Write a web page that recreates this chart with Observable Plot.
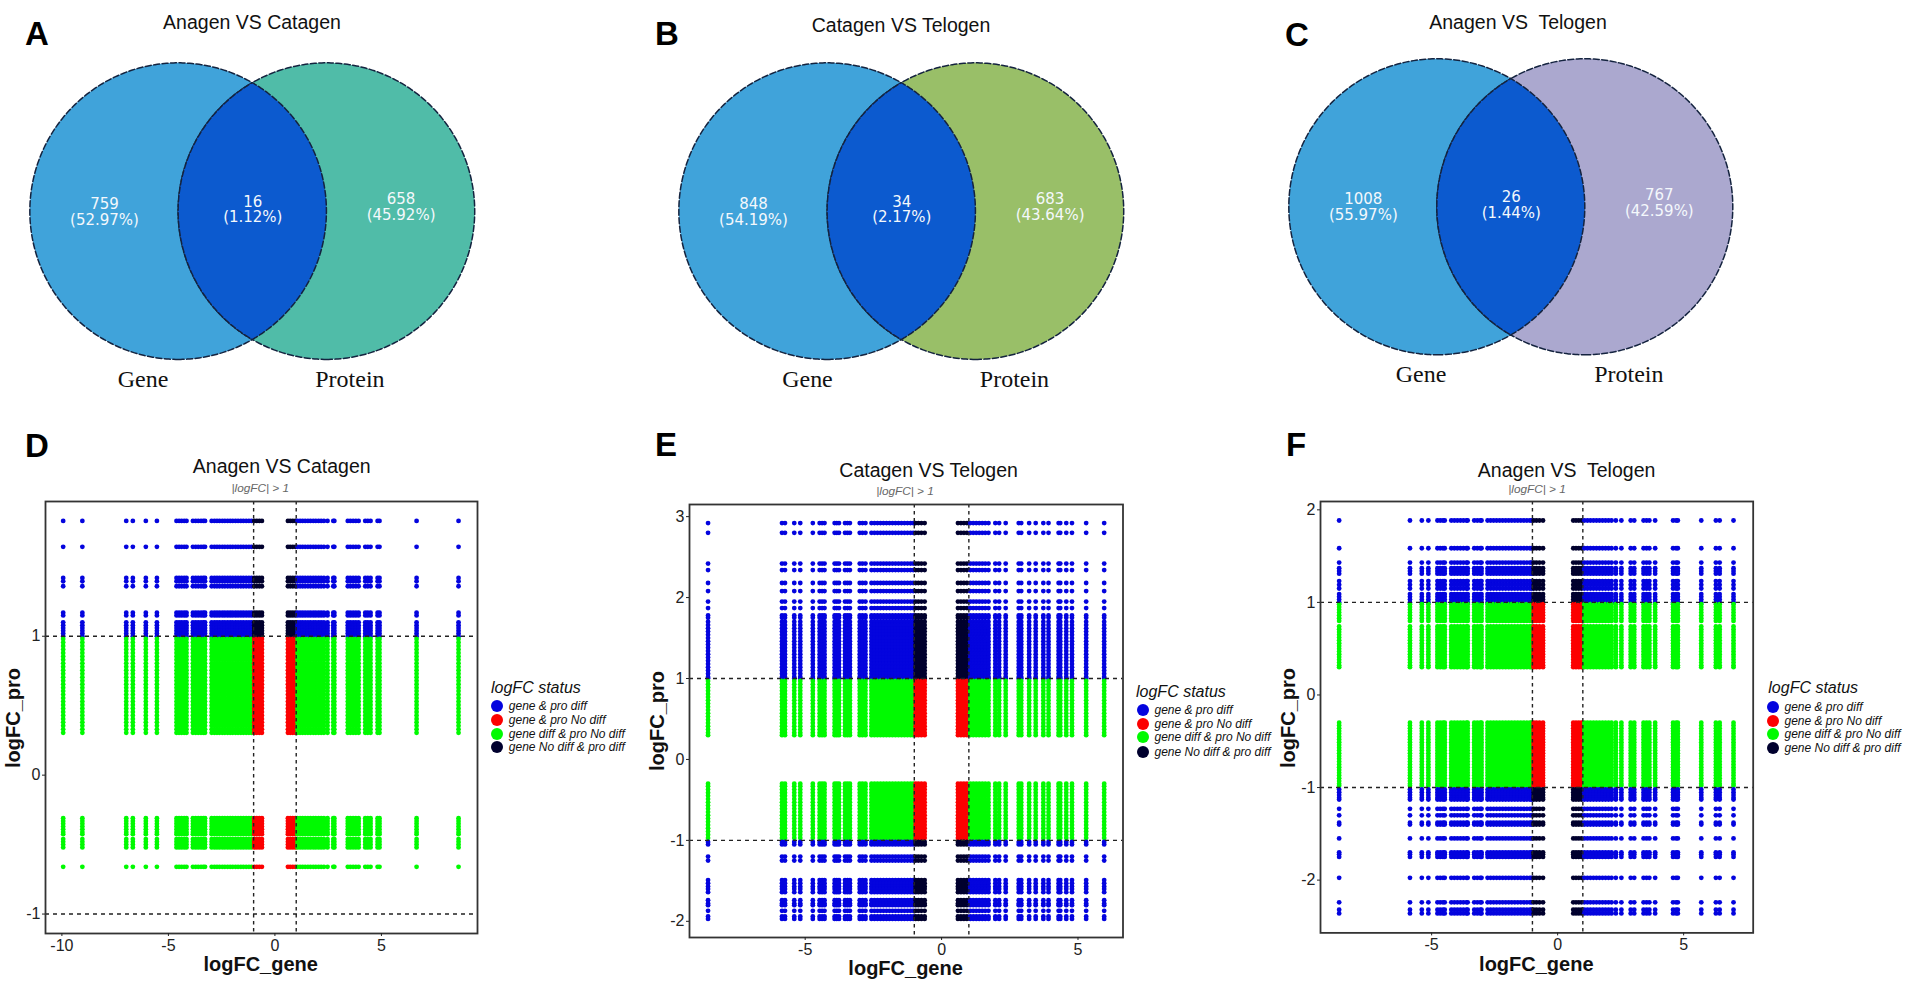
<!DOCTYPE html>
<html>
<head>
<meta charset="utf-8">
<script src="https://cdn.jsdelivr.net/npm/d3@7"></script>
<script src="https://cdn.jsdelivr.net/npm/@observablehq/plot@0.6"></script>
<style>
html,body{margin:0;padding:0;background:#fff;width:1907px;height:985px;overflow:hidden}
#page{position:relative;width:1907px;height:985px}
#page>svg{position:absolute;max-width:none}
.t{position:absolute;white-space:pre;line-height:1;transform:translate(-50%,-50%);font-family:"Liberation Sans",Arial,sans-serif;color:#111}
</style>
</head>
<body>
<div id="page"></div>
<script>
const statusNames = ["gene & pro diff","gene & pro No diff","gene diff & pro No diff","gene No diff & pro diff"];
const statusColors = ["#0404de","#fc0000","#00fa00","#00002e"];

const geneD = [-9.94,-9.04,-6.98,-6.67,-6.06,-5.54,-4.62,-4.50,-4.38,-4.26,-4.15,-3.85,-3.72,-3.60,-3.47,-3.36,-3.28,-2.97,-2.84,-2.72,-2.60,-2.47,-2.35,-2.22,-2.10,-1.98,-1.85,-1.73,-1.60,-1.48,-1.35,-1.22,-1.10,-0.97,-0.85,-0.73,-0.61,0.61,0.72,0.84,0.96,1.06,1.18,1.30,1.42,1.55,1.67,1.80,1.92,2.05,2.17,2.30,2.47,2.74,2.79,3.42,3.54,3.67,3.80,3.93,4.24,4.36,4.49,4.82,4.91,6.65,8.62];
const proD = [1.83,1.644,1.42,1.395,1.36,1.17,1.15,1.10,1.08,1.06,1.04,1.02,1.0,0.98,0.955,0.93,0.905,0.88,0.855,0.83,0.805,0.78,0.755,0.73,0.705,0.68,0.655,0.63,0.605,0.58,0.555,0.53,0.505,0.48,0.455,0.43,0.405,0.38,0.355,0.33,0.305,-0.31,-0.33,-0.35,-0.37,-0.39,-0.41,-0.425,-0.46,-0.48,-0.50,-0.52,-0.66];

const geneE = [-8.56,-5.85,-5.74,-5.40,-5.18,-4.72,-4.47,-4.38,-4.29,-3.92,-3.84,-3.76,-3.54,-3.45,-3.36,-3.0,-2.9,-2.79,-2.57,-2.46,-2.35,-2.24,-2.13,-2.02,-1.91,-1.80,-1.69,-1.58,-1.47,-1.36,-1.25,-1.14,-1.04,-0.95,-0.85,-0.74,-0.62,0.60,0.71,0.82,0.93,1.05,1.16,1.27,1.38,1.49,1.60,1.72,1.97,2.11,2.35,2.83,2.92,3.21,3.45,3.73,3.92,4.29,4.35,4.57,4.78,5.30,5.96];
const proE = [2.92,2.80,2.42,2.34,2.18,2.08,1.95,1.87,1.78,1.75,1.70,1.66,1.62,1.58,1.54,1.50,1.46,1.42,1.38,1.34,1.30,1.26,1.22,1.18,1.14,1.10,1.06,1.02,1.0,0.97,0.93,0.89,0.85,0.81,0.77,0.73,0.69,0.65,0.61,0.57,0.53,0.49,0.45,0.41,0.37,0.33,0.30,-0.30,-0.33,-0.37,-0.41,-0.45,-0.49,-0.53,-0.57,-0.61,-0.65,-0.69,-0.73,-0.77,-0.81,-0.85,-0.89,-0.93,-0.97,-1.02,-1.05,-1.20,-1.25,-1.49,-1.53,-1.57,-1.60,-1.64,-1.74,-1.78,-1.80,-1.87,-1.94,-1.97];

const geneF = [-8.67,-5.86,-5.39,-5.13,-4.77,-4.66,-4.55,-4.48,-4.22,-4.10,-3.98,-3.86,-3.74,-3.62,-3.57,-3.31,-3.19,-3.07,-3.02,-2.78,-2.66,-2.54,-2.42,-2.30,-2.18,-2.06,-1.94,-1.82,-1.70,-1.58,-1.46,-1.34,-1.22,-1.10,-1.03,-0.95,-0.84,-0.72,-0.58,0.62,0.73,0.84,0.95,1.06,1.18,1.30,1.42,1.54,1.66,1.78,1.90,2.02,2.14,2.31,2.53,2.90,3.04,3.41,3.53,3.64,3.87,4.58,4.70,4.77,5.70,6.28,6.43,6.98];
const proF = [1.885,1.585,1.43,1.37,1.34,1.31,1.23,1.19,1.15,1.09,1.06,1.03,1.0,0.98,0.95,0.92,0.89,0.86,0.83,0.80,0.74,0.71,0.68,0.65,0.62,0.59,0.56,0.53,0.50,0.47,0.44,0.41,0.38,0.35,0.32,0.30,-0.30,-0.33,-0.36,-0.39,-0.42,-0.45,-0.48,-0.51,-0.54,-0.57,-0.60,-0.63,-0.66,-0.69,-0.72,-0.75,-0.78,-0.81,-0.84,-0.87,-0.90,-0.93,-0.96,-0.98,-1.02,-1.05,-1.08,-1.11,-1.13,-1.23,-1.30,-1.38,-1.40,-1.55,-1.70,-1.72,-1.75,-1.975,-2.24,-2.32,-2.36];

const vennTitles = ["Anagen VS Catagen","Catagen VS Telogen","Anagen VS  Telogen"];
const vennLetters = ["A","B","C"];
const vennLeft = ["759\n(52.97%)","848\n(54.19%)","1008\n(55.97%)"];
const vennMid = ["16\n(1.12%)","34\n(2.17%)","26\n(1.44%)"];
const vennRight = ["658\n(45.92%)","683\n(43.64%)","767\n(42.59%)"];
const vennRightColor = ["#50bca8","#99bf68","#aba8cf"];
const scatterLetters = ["D","E","F"];

const page = document.getElementById("page");
function label(text,x,y,css){
  const d=document.createElement("div");
  d.className="t"; d.textContent=text;
  d.style.left=x+"px"; d.style.top=y+"px";
  Object.assign(d.style,css||{});
  page.appendChild(d);
}
function status(g,p){
  const gd=Math.abs(g)>=1, pd=Math.abs(p)>=1;
  return gd&&pd?statusNames[0]:!gd&&!pd?statusNames[1]:gd?statusNames[2]:statusNames[3];
}

/* ---------- Venn panels ---------- */
const vennBox = [
 {cx:251.8,cy:211.3,r:148.3,tx:252,ty:23,lx:37,ly:33,gene:-0.74,prot:0.655,yl:[0,0.015,0.03]},
 {cx:901,  cy:211,  r:148.3,tx:901,ty:26,lx:667,ly:33,gene:-0.636,prot:0.76,yl:[0,0.015,0.03]},
 {cx:1511, cy:207.2,r:148,  tx:1518,ty:23,lx:1297,ly:34,gene:-0.61,prot:0.794,yl:[0,0.015,0.03]}
];
const ts = d3.range(0,201).map(i=>-Math.PI/2+Math.PI*i/200);
const vennStroke = {stroke:"#14233f",strokeWidth:1.5,strokeDasharray:"6,2.5"};
vennBox.forEach((b,i)=>{
  const circle = c => ts.map(t=>({y:Math.sin(t),x1:c-Math.cos(t),x2:c+Math.cos(t)}));
  const lensY = ts.map(t=>Math.sin(t)*Math.sqrt(3)/2);
  const lens = lensY.map(y=>({y,x1:0.5-Math.sqrt(1-y*y),x2:-0.5+Math.sqrt(1-y*y)}));
  const txt = [
    {x:-1,y:b.yl[0],t:vennLeft[i]},
    {x:0,y:b.yl[1],t:vennMid[i]},
    {x:1,y:b.yl[2],t:vennRight[i]}
  ];
  const names=[{x:b.gene,y:-1.13,t:"Gene"},{x:b.prot,y:-1.13,t:"Protein"}];
  const w=3.2*b.r, h=2.35*b.r;
  const svg = Plot.plot({
    width:w,height:h,margin:0,
    x:{domain:[-1.6,1.6],axis:null},
    y:{domain:[-1.25,1.1],axis:null},
    style:{background:"transparent",overflow:"visible"},
    marks:[
      Plot.areaX(circle(-0.5),{x1:"x1",x2:"x2",y:"y",fill:"#40a3da",...vennStroke}),
      Plot.areaX(circle(0.5),{x1:"x1",x2:"x2",y:"y",fill:vennRightColor[i],...vennStroke}),
      Plot.areaX(lens,{x1:"x1",x2:"x2",y:"y",fill:"#0c5acf",...vennStroke}),
      Plot.text(txt,{x:"x",y:"y",text:"t",fill:"#f4f8fc",fontSize:15,fontFamily:"DejaVu Sans",lineHeight:1.05}),
      Plot.text(names,{x:"x",y:"y",text:"t",fill:"#111",fontSize:24,fontFamily:"Liberation Serif"})
    ]
  });
  svg.style.left=(b.cx-w/2)+"px";
  svg.style.top=(b.cy-1.1*b.r)+"px";
  page.appendChild(svg);
  label(vennTitles[i],b.tx,b.ty,{fontSize:"19.5px"});
  label(vennLetters[i],b.lx,b.ly,{fontSize:"33px",fontWeight:"bold",color:"#000"});
});

/* ---------- Scatter panels ---------- */
const panels = [
 {gene:geneD,pro:proD,L:45,R:477,T:501,B:933,xd:[-10.77,9.51],yd:[-1.14,1.97],xt:[-10,-5,0,5],yt:[-1,0,1],hl:[-1,1],
  title:vennTitles[0],tx:281.7,ty:467,sx:260.3,sy:489,xlx:260.7,xly:964,ylx:13,yly:717.5,lgx:497.3,lgt:491,lgy:[706,720,733.7,747.3],lgty:688,lx:37,ly:445},
 {gene:geneE,pro:proE,L:689,R:1122.5,T:504,B:937,xd:[-9.24,6.65],yd:[-2.2,3.15],xt:[-5,0,5],yt:[-2,-1,0,1,2,3],hl:[-1,1],
  title:vennTitles[1],tx:928.6,ty:471,sx:905,sy:492.3,xlx:905.6,xly:968,ylx:656.7,yly:720.8,lgx:1143,lgt:1136,lgy:[709.7,723.7,737.4,751.7],lgty:691.7,lx:666,ly:444},
 {gene:geneF,pro:proF,L:1320.3,R:1753,T:501.3,B:932.7,xd:[-9.41,7.76],yd:[-2.57,2.09],xt:[-5,0,5],yt:[-2,-1,0,1,2],hl:[-1,1],
  title:vennTitles[2],tx:1566.6,ty:471,sx:1537,sy:490,xlx:1536.3,xly:964,ylx:1288,yly:717.5,lgx:1773,lgt:1768.3,lgy:[706.7,720.7,734.3,748],lgty:688,lx:1296,ly:444}
];
panels.forEach((p,i)=>{
  const pts = d3.cross(p.gene,p.pro,(g,v)=>({g,v,s:status(g,v)}));
  const mL=40,mR=10,mT=8,mB=30;
  const svg = Plot.plot({
    width:p.R-p.L+mL+mR,height:p.B-p.T+mT+mB,
    marginLeft:mL,marginRight:mR,marginTop:mT,marginBottom:mB,
    style:{background:"transparent",fontFamily:"Liberation Sans",fontSize:"16px",color:"#222"},
    x:{domain:p.xd,label:null},
    y:{domain:p.yd,label:null},
    color:{domain:statusNames,range:statusColors},
    marks:[
      Plot.dot(pts,{x:"g",y:"v",fill:"s",r:2.4}),
      Plot.ruleX([-1,1],{stroke:"#222",strokeWidth:1.4,strokeDasharray:"3.5,3.5"}),
      Plot.ruleY(p.hl,{stroke:"#222",strokeWidth:1.4,strokeDasharray:"4,4"}),
      Plot.frame({stroke:"#333",strokeWidth:1.8}),
      Plot.axisX({ticks:p.xt,tickFormat:d=>String(d),tickSize:3,tickPadding:3,label:null,fontSize:16}),
      Plot.axisY({ticks:p.yt,tickFormat:d=>String(d),tickSize:3,tickPadding:2,label:null,fontSize:16})
    ]
  });
  svg.style.left=(p.L-mL)+"px";
  svg.style.top=(p.T-mT)+"px";
  page.appendChild(svg);
  label(p.title,p.tx,p.ty,{fontSize:"19.5px"});
  label("|logFC| > 1",p.sx,p.sy,{fontSize:"11.8px",fontStyle:"italic",color:"#666"});
  label("logFC_gene",p.xlx,p.xly,{fontSize:"20px",fontWeight:"bold"});
  label("logFC_pro",p.ylx,p.yly,{fontSize:"20px",fontWeight:"bold",transform:"translate(-50%,-50%) rotate(-90deg)"});
  label(scatterLetters[i],p.lx,p.ly,{fontSize:"33px",fontWeight:"bold",color:"#000"});
  label("logFC status",p.lgt,p.lgty,{fontSize:"16px",fontStyle:"italic",transform:"translate(0,-50%)"});
  statusNames.forEach((n,k)=>{
    const c=document.createElement("div");
    c.style.cssText=`position:absolute;width:12px;height:12px;border-radius:50%;background:${statusColors[k]};left:${p.lgx-6}px;top:${p.lgy[k]-6}px`;
    page.appendChild(c);
    label(n,p.lgx+11.5,p.lgy[k],{fontSize:"12px",fontStyle:"italic",transform:"translate(0,-50%)"});
  });
});
</script>
</body>
</html>
